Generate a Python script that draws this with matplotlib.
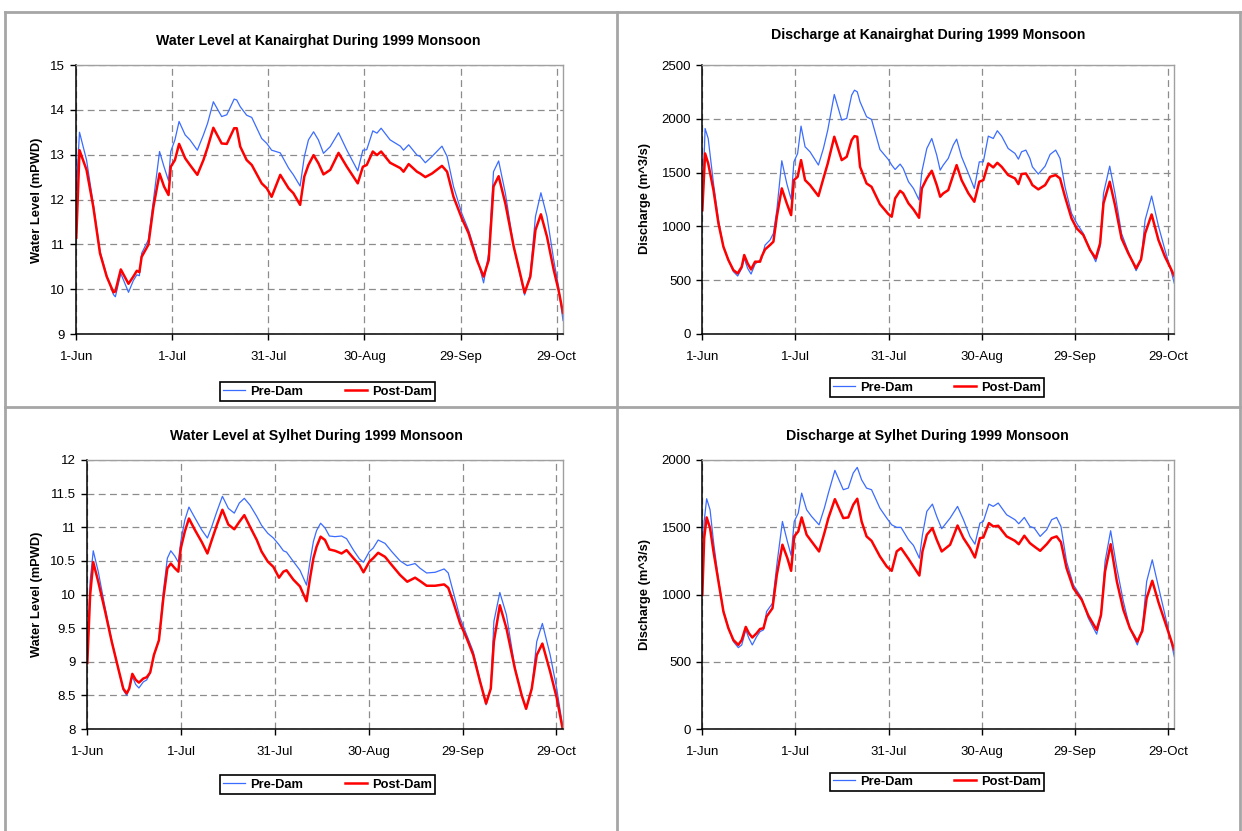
import matplotlib
matplotlib.use("Agg")
import matplotlib.pyplot as plt
from matplotlib.lines import Line2D
from matplotlib.ticker import FuncFormatter

plt.rcParams['font.family'] = ['Liberation Sans', 'DejaVu Sans']

# days counted from 1-Jun-1999
date_ticks = [0, 30, 60, 90, 120, 150]
date_labels = ["1-Jun", "1-Jul", "31-Jul", "30-Aug", "29-Sep", "29-Oct"]
series_names = ["Pre-Dam", "Post-Dam"]

# --- Water level at Kanairghat (mPWD)
kan_wl_days = [0, 1, 3.2, 5.3, 7.4, 9.5, 11.6, 12.2, 13.9, 16.3, 17.8, 18.9, 19.7, 20.4, 22.5, 24.1,
               26, 27.4, 28.8, 29.5, 30.8, 32.1, 34, 35.5, 37.8, 39.7, 41, 42.8, 45.4, 47, 49.3, 50.1,
               51.2, 53.2, 54.8, 57.9, 59.5, 61, 63.7, 66.3, 67.8, 69.9, 71.2, 72.5, 74.1, 75.6, 77.2,
               79.3, 81.9, 84.5, 87.9, 89.5, 90.7, 92.6, 93.9, 95.2, 98, 101.2, 102.2, 103.8, 106.4,
               107.4, 109, 111.1, 114.2, 115.8, 117.8, 120.4, 122.5, 125.1, 127.2, 128.8, 130.3,
               131.9, 134, 136.6, 138.7, 140, 141.8, 143.4, 145.1, 147, 149.1, 150.6, 152]
kan_wl_pre = [12.2, 13.5, 12.88, 11.9, 10.85, 10.3, 9.88, 9.83, 10.35, 9.93, 10.19, 10.32, 10.3, 10.8,
              11.1, 11.99, 13.07, 12.73, 12.42, 13.07, 13.33, 13.74, 13.44, 13.33, 13.1, 13.44, 13.7,
              14.18, 13.85, 13.89, 14.24, 14.22, 14.07, 13.88, 13.83, 13.36, 13.25, 13.1, 13.04, 12.7,
              12.55, 12.3, 12.95, 13.33, 13.51, 13.33, 13.03, 13.18, 13.49, 13.1, 12.64, 13.1, 13.11,
              13.53, 13.48, 13.59, 13.33, 13.19, 13.1, 13.22, 12.99, 12.96, 12.82, 12.96, 13.19, 12.96,
              12.29, 11.69, 11.32, 10.72, 10.14, 10.8, 12.62, 12.86, 12.14, 10.95, 10.28, 9.87, 10.35,
              11.62, 12.15, 11.62, 10.65, 10.06, 9.3]
kan_wl_post = [11.15, 13.1, 12.66, 11.84, 10.8, 10.28, 9.93, 9.95, 10.44, 10.12, 10.28, 10.41, 10.38,
               10.72, 10.99, 11.84, 12.58, 12.29, 12.1, 12.73, 12.88, 13.24, 12.92, 12.77, 12.55, 12.88,
               13.16, 13.6, 13.25, 13.24, 13.59, 13.59, 13.18, 12.88, 12.77, 12.36, 12.25, 12.06, 12.55,
               12.25, 12.14, 11.88, 12.51, 12.77, 12.99, 12.81, 12.56, 12.66, 13.04, 12.73, 12.36, 12.73,
               12.77, 13.07, 12.99, 13.07, 12.82, 12.7, 12.62, 12.79, 12.62, 12.58, 12.5, 12.58, 12.75,
               12.62, 12.06, 11.58, 11.25, 10.65, 10.28, 10.65, 12.29, 12.52, 11.91, 10.95, 10.32, 9.92,
               10.28, 11.32, 11.67, 11.17, 10.43, 9.98, 9.47]

# --- Discharge at Kanairghat (m^3/s)
kan_q_days = [0, 0.9, 1.9, 3.6, 5.2, 6.8, 8.4, 10, 11.4, 12.7, 13.5, 14.6, 15.7, 17, 18.6, 19.1, 20.2,
              21.8, 22.9, 24, 25.6, 27.2, 28.6, 29.5, 30.7, 31.8, 33.1, 34.7, 37.4, 39, 40.4, 42.5, 44.9,
              46.5, 48.1, 49, 49.9, 50.8, 52.9, 54.5, 57.2, 59.9, 61, 62.1, 63.7, 64.7, 66.4, 68, 69.8,
              70.7, 72.3, 73.9, 75.5, 76.6, 77.6, 79.2, 80.8, 81.9, 83.5, 85.7, 87.6, 89.2, 90.5, 92.1,
              93.7, 95, 96.4, 98.5, 100.7, 101.8, 102.8, 104.2, 105.5, 106.3, 108.2, 110.4, 112, 113.8,
              115.2, 116.8, 118.9, 120.6, 122.7, 124.9, 126.7, 128.1, 129.2, 131.2, 132.9, 135, 137.2,
              139.7, 141.3, 142.6, 144.7, 146.9, 149, 150.6, 152]
kan_q_pre = [1150, 1910, 1817, 1399, 1059, 811, 690, 580, 539, 610, 703, 610, 557, 650, 687, 700, 826,
             873, 935, 1152, 1610, 1399, 1251, 1600, 1678, 1932, 1740, 1693, 1570, 1724, 1895, 2226, 1988,
             2003, 2220, 2266, 2251, 2158, 2019, 1994, 1715, 1622, 1570, 1529, 1579, 1539, 1415, 1353,
             1245, 1508, 1724, 1817, 1662, 1523, 1570, 1632, 1755, 1811, 1647, 1492, 1353, 1600, 1600,
             1839, 1817, 1889, 1839, 1724, 1678, 1625, 1693, 1709, 1632, 1554, 1486, 1560, 1669, 1709,
             1632, 1368, 1121, 1028, 935, 780, 672, 811, 1307, 1560, 1307, 935, 765, 588, 687, 1059,
             1282, 1003, 780, 625, 471]
kan_q_post = [1150, 1678, 1585, 1337, 1028, 811, 687, 594, 563, 625, 734, 656, 600, 672, 672, 718, 786,
              827, 858, 1090, 1353, 1214, 1105, 1430, 1461, 1616, 1430, 1384, 1282, 1446, 1585, 1833,
              1616, 1647, 1802, 1839, 1833, 1554, 1399, 1368, 1207, 1115, 1090, 1260, 1331, 1307, 1214,
              1158, 1080, 1353, 1446, 1517, 1384, 1276, 1307, 1337, 1477, 1570, 1430, 1307, 1229, 1415,
              1430, 1585, 1548, 1591, 1554, 1477, 1446, 1393, 1486, 1492, 1430, 1384, 1344, 1384, 1461,
              1477, 1446, 1276, 1074, 981, 920, 780, 703, 842, 1214, 1415, 1198, 889, 749, 610, 694, 935,
              1111, 873, 718, 625, 539]

# --- Water level at Sylhet (mPWD)
syl_wl_days = [0, 0.9, 1.9, 3.5, 5.7, 7.8, 9.9, 11.5, 12.6, 13.4, 14.4, 15.5, 16.5, 17.9, 19, 20.1,
               21.3, 22.9, 24.3, 25.6, 26.7, 28, 29.1, 29.9, 31.2, 32.5, 34.4, 36.6, 38.4, 39.8, 41.4,
               43.2, 45.1, 47, 48.6, 50.2, 52, 54.2, 55.7, 57.7, 59.5, 61.3, 62.7, 63.7, 65.9, 68, 70.1,
               71.2, 72.3, 73.3, 74.6, 76, 77.4, 79.2, 81.3, 82.9, 85.1, 87, 88.3, 90.2, 91.4, 93, 95.2,
               97.3, 100, 102.3, 104.8, 106.4, 108.5, 111.2, 114.1, 115.4, 117, 119.2, 121.3, 123.4,
               125.6, 127.5, 129, 130, 131.9, 134, 136.7, 138.9, 140.3, 142.1, 143.7, 145.5, 148, 150.1,
               152]
syl_wl_pre = [9.0, 10.19, 10.65, 10.34, 9.8, 9.32, 8.9, 8.58, 8.5, 8.6, 8.78, 8.66, 8.61, 8.7, 8.73,
              8.83, 9.1, 9.32, 10.04, 10.54, 10.65, 10.57, 10.48, 10.79, 11.11, 11.3, 11.14, 10.96, 10.84,
              11.01, 11.23, 11.46, 11.28, 11.21, 11.36, 11.43, 11.33, 11.16, 11.03, 10.91, 10.84, 10.74,
              10.65, 10.63, 10.49, 10.36, 10.14, 10.49, 10.79, 10.95, 11.06, 10.99, 10.87, 10.86, 10.87,
              10.83, 10.66, 10.53, 10.48, 10.64, 10.69, 10.81, 10.76, 10.64, 10.5, 10.43, 10.46, 10.39,
              10.32, 10.33, 10.38, 10.32, 10.04, 9.65, 9.4, 9.15, 8.72, 8.36, 8.6, 9.6, 10.03, 9.7, 8.92,
              8.5, 8.3, 8.6, 9.3, 9.57, 9.1, 8.6, 8.03]
syl_wl_post = [8.98, 9.99, 10.48, 10.19, 9.75, 9.3, 8.9, 8.6, 8.53, 8.6, 8.82, 8.73, 8.69, 8.75, 8.77,
               8.84, 9.1, 9.32, 9.94, 10.39, 10.46, 10.39, 10.34, 10.69, 10.94, 11.13, 10.96, 10.78,
               10.61, 10.81, 11.03, 11.26, 11.04, 10.97, 11.08, 11.18, 11.01, 10.81, 10.64, 10.49, 10.41,
               10.25, 10.34, 10.36, 10.22, 10.12, 9.9, 10.24, 10.54, 10.71, 10.86, 10.81, 10.67, 10.65,
               10.61, 10.66, 10.54, 10.44, 10.33, 10.49, 10.54, 10.62, 10.56, 10.44, 10.29, 10.19, 10.25,
               10.2, 10.13, 10.13, 10.15, 10.1, 9.89, 9.57, 9.35, 9.1, 8.7, 8.38, 8.6, 9.3, 9.84, 9.5,
               8.9, 8.5, 8.3, 8.6, 9.1, 9.27, 8.85, 8.46, 8.0]

# --- Discharge at Sylhet (m^3/s)
syl_q_days = [0, 0.6, 1.4, 2.5, 3.6, 5.2, 6.8, 8.4, 10, 11.6, 12.7, 14, 15, 16.1, 17.5, 18.6, 19.7,
              20.7, 22.6, 24, 25.8, 27.4, 28.6, 29.6, 30.9, 32, 33.6, 35.2, 37.6, 39.3, 40.6, 42.7, 45.4,
              47, 48.6, 49.9, 51.3, 52.9, 54.5, 57.2, 59.4, 61, 62.6, 64, 66.4, 68, 69.9, 70.9, 72.3,
              74.1, 75.5, 77.1, 79.8, 82.2, 84.1, 86.2, 87.8, 89.4, 90.5, 92.3, 93.7, 95.3, 98, 100.7,
              101.9, 103.7, 105.5, 106.9, 108.8, 110.9, 112.5, 114.1, 115.5, 117.3, 119.5, 122.2, 124.3,
              127, 128.4, 129.7, 131.5, 133.5, 135.6, 137.7, 140.1, 141.7, 143.1, 144.9, 147, 149.5, 152]
syl_q_pre = [1000, 1543, 1712, 1630, 1394, 1110, 880, 755, 650, 605, 625, 737, 675, 625, 687, 724, 737,
             873, 935, 1221, 1543, 1394, 1290, 1543, 1605, 1754, 1630, 1580, 1518, 1642, 1754, 1923, 1779,
             1791, 1903, 1945, 1853, 1791, 1779, 1642, 1568, 1518, 1499, 1499, 1407, 1365, 1270, 1444,
             1618, 1672, 1580, 1489, 1568, 1655, 1556, 1432, 1374, 1531, 1543, 1672, 1655, 1680, 1593,
             1556, 1526, 1573, 1506, 1494, 1432, 1481, 1556, 1573, 1506, 1245, 1072, 973, 824, 705, 836,
             1245, 1474, 1196, 948, 749, 625, 749, 1097, 1258, 1047, 799, 538]
syl_q_post = [997, 1419, 1573, 1494, 1320, 1097, 873, 749, 662, 625, 662, 759, 712, 680, 712, 744, 749,
              836, 898, 1146, 1370, 1270, 1176, 1432, 1469, 1573, 1444, 1394, 1320, 1456, 1568, 1709,
              1568, 1573, 1667, 1712, 1543, 1432, 1399, 1283, 1208, 1176, 1320, 1345, 1265, 1208, 1141,
              1320, 1444, 1494, 1407, 1320, 1370, 1513, 1419, 1345, 1275, 1419, 1424, 1531, 1506, 1511,
              1432, 1399, 1374, 1437, 1382, 1357, 1325, 1374, 1419, 1432, 1389, 1196, 1047, 960, 844, 737,
              849, 1171, 1374, 1097, 886, 749, 650, 729, 973, 1102, 935, 762, 588]

pre_color = "#3a6cff"
post_color = "#ff0000"
grid_color = "#8c8c8c"

W, H = 1242, 831
fig = plt.figure(figsize=(W / 100, H / 100), dpi=100)
fig.patch.set_facecolor("white")


def px(x, y):
    return x / W, 1 - y / H


def draw_panel(box, title, title_xy, ylabel, ylabel_xy, legend_xy,
               days, pre, post, ylim, ystep):
    left, top, right, bottom = box
    ax = fig.add_axes([left / W, 1 - bottom / H, (right - left) / W, (bottom - top) / H])
    l1, = ax.plot(days, pre, color=pre_color, lw=0.9)
    l2, = ax.plot(days, post, color=post_color, lw=1.8)
    ax.set_xlim(0, 152)
    ax.set_ylim(*ylim)
    ax.set_xticks(date_ticks)
    ax.set_xticklabels(date_labels)
    yticks = [ylim[0] + i * ystep for i in range(int(round((ylim[1] - ylim[0]) / ystep)) + 1)]
    ax.set_yticks(yticks)
    ax.yaxis.set_major_formatter(FuncFormatter(lambda v, p: ("%g" % v)))
    ax.grid(True, color=grid_color, linestyle=(0, (5.5, 3.5)), lw=0.9)
    ax.set_axisbelow(True)
    ax.tick_params(direction="out", length=4, width=1, labelsize=9.5, colors="black")
    ax.tick_params(axis="x", pad=8)
    ax.tick_params(axis="y", pad=4)
    for s in ["top", "right"]:
        ax.spines[s].set_color("#a0a0a0")
        ax.spines[s].set_linewidth(1.0)
    for s in ["left", "bottom"]:
        ax.spines[s].set_color("black")
        ax.spines[s].set_linewidth(1.1)

    tx, ty = px(*title_xy)
    fig.text(tx, ty, title, ha="center", va="center", fontsize=10.2, fontweight="bold")
    lx, ly = px(*ylabel_xy)
    fig.text(lx, ly, ylabel, ha="center", va="center", rotation=90, fontsize=9.3, fontweight="bold")

    leg = fig.legend([l1, l2], series_names, loc="center", bbox_to_anchor=px(*legend_xy),
                     ncol=2, frameon=True, fancybox=False, edgecolor="black", framealpha=1,
                     prop={"weight": "bold", "size": 9.3}, handlelength=1.7, handletextpad=0.4,
                     columnspacing=3.2, borderpad=0.25, borderaxespad=0)
    leg.get_frame().set_linewidth(1.2)
    return ax


draw_panel((76.3, 65, 563, 334), "Water Level at Kanairghat During 1999 Monsoon", (318, 41),
           "Water Level (mPWD)", (37, 200), (327.5, 391.5),
           kan_wl_days, kan_wl_pre, kan_wl_post, (9, 15), 1)
draw_panel((702.3, 65, 1174.3, 334), "Discharge at Kanairghat During 1999 Monsoon", (928, 35),
           "Discharge (m^3/s)", (645, 199), (937, 387.5),
           kan_q_days, kan_q_pre, kan_q_post, (0, 2500), 500)
draw_panel((87.3, 460, 562.7, 729), "Water Level at Sylhet During 1999 Monsoon", (316, 436),
           "Water Level (mPWD)", (37, 594), (327.5, 784.5),
           syl_wl_days, syl_wl_pre, syl_wl_post, (8, 12), 0.5)
draw_panel((702.3, 460, 1174.3, 729), "Discharge at Sylhet During 1999 Monsoon", (927, 436),
           "Discharge (m^3/s)", (645, 594), (937, 782),
           syl_q_days, syl_q_pre, syl_q_post, (0, 2000), 500)

# grey cell borders around the four charts
border = dict(color="#a6a6a6", lw=2, transform=fig.transFigure)
for (x0, y0), (x1, y1) in [((5, 12), (1240, 12)), ((5, 406.5), (1240, 406.5)),
                           ((5, 12), (5, 831)), ((617, 12), (617, 831)), ((1240, 12), (1240, 831))]:
    a, b = px(x0, y0)
    c, d = px(x1, y1)
    fig.add_artist(Line2D([a, c], [b, d], **border))

fig.savefig("out.png", dpi=100)
